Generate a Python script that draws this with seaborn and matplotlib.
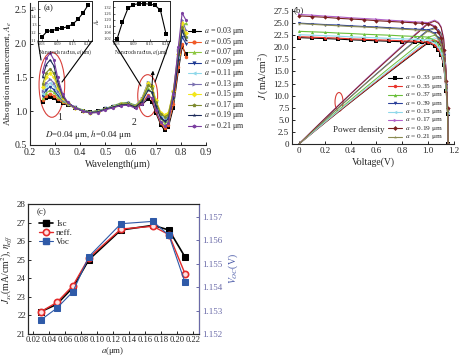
import numpy as np
import pandas as pd
import seaborn as sns
import matplotlib.pyplot as plt
from matplotlib.patches import Ellipse
from matplotlib.lines import Line2D

sns.set_style("ticks")
plt.rcParams["font.family"] = ["Liberation Serif", "DejaVu Serif"]
plt.rcParams["mathtext.fontset"] = "stix"
plt.rcParams["xtick.direction"] = "in"
plt.rcParams["ytick.direction"] = "in"
plt.rcParams["axes.linewidth"] = 0.8

# ---- panel (a): absorption enhancement vs wavelength ----
a_labels = ["0.03", "0.05", "0.07", "0.09", "0.11", "0.13", "0.15", "0.17", "0.19", "0.21"]
a_colors = ["#000000", "#f05a28", "#8cc63f", "#1f3a93", "#8fd8ea",
            "#7a6fb0", "#f2e61c", "#7d8a2e", "#1c2a5a", "#7b3fa0"]
a_markers = ["s", "o", "^", "v", "<", ">", "D", "p", "*", "h"]
wavelength = [0.25, 0.265, 0.28, 0.295, 0.31, 0.33, 0.35, 0.38, 0.41, 0.44, 0.47, 0.50, 0.53,
              0.56, 0.59, 0.62, 0.645, 0.67, 0.685, 0.70, 0.72, 0.735, 0.75, 0.77, 0.79, 0.805, 0.82]
ae_values = [
    [1.13, 1.19, 1.21, 1.19, 1.15, 1.12, 1.09, 1.05, 1.01, 0.99, 1.00, 1.03, 1.06, 1.09, 1.10, 1.06, 1.10, 1.18, 1.14, 0.98, 0.80, 0.72, 0.76, 1.05, 1.60, 1.95, 1.85],
    [1.16, 1.23, 1.26, 1.23, 1.18, 1.13, 1.10, 1.05, 1.01, 0.99, 1.00, 1.03, 1.06, 1.09, 1.10, 1.06, 1.12, 1.24, 1.18, 1.00, 0.82, 0.75, 0.80, 1.10, 1.65, 2.00, 1.80],
    [1.19, 1.27, 1.31, 1.28, 1.21, 1.15, 1.11, 1.06, 1.02, 0.99, 1.01, 1.04, 1.08, 1.12, 1.13, 1.09, 1.17, 1.34, 1.28, 1.08, 0.90, 0.82, 0.85, 1.20, 1.85, 2.25, 2.30],
    [1.22, 1.32, 1.36, 1.32, 1.24, 1.16, 1.11, 1.06, 1.01, 0.99, 1.00, 1.04, 1.07, 1.11, 1.12, 1.08, 1.18, 1.40, 1.34, 1.12, 0.92, 0.86, 0.90, 1.20, 1.75, 2.10, 2.00],
    [1.26, 1.37, 1.42, 1.37, 1.27, 1.17, 1.11, 1.05, 1.01, 0.98, 1.00, 1.03, 1.07, 1.10, 1.11, 1.08, 1.19, 1.43, 1.37, 1.15, 0.95, 0.90, 0.93, 1.25, 1.80, 2.20, 2.10],
    [1.30, 1.42, 1.47, 1.42, 1.30, 1.18, 1.11, 1.05, 1.00, 0.98, 0.99, 1.03, 1.06, 1.10, 1.11, 1.07, 1.19, 1.43, 1.38, 1.16, 0.97, 0.93, 0.95, 1.30, 1.90, 2.35, 2.20],
    [1.36, 1.50, 1.56, 1.50, 1.35, 1.20, 1.12, 1.05, 1.00, 0.98, 0.99, 1.03, 1.06, 1.10, 1.11, 1.07, 1.18, 1.41, 1.37, 1.17, 0.98, 0.95, 0.97, 1.30, 1.85, 2.30, 2.15],
    [1.40, 1.57, 1.63, 1.56, 1.38, 1.21, 1.12, 1.05, 1.00, 0.98, 0.99, 1.03, 1.06, 1.10, 1.11, 1.07, 1.17, 1.38, 1.34, 1.14, 0.96, 0.92, 0.95, 1.28, 1.85, 2.25, 2.10],
    [1.50, 1.69, 1.76, 1.67, 1.44, 1.23, 1.13, 1.05, 1.00, 0.98, 0.99, 1.03, 1.06, 1.09, 1.10, 1.06, 1.14, 1.31, 1.28, 1.08, 0.90, 0.85, 0.88, 1.20, 1.75, 2.20, 2.05],
    [1.58, 1.78, 1.86, 1.76, 1.50, 1.25, 1.13, 1.05, 1.00, 0.97, 0.98, 1.02, 1.05, 1.08, 1.09, 1.04, 1.10, 1.22, 1.20, 1.02, 0.84, 0.78, 0.82, 1.25, 1.95, 2.45, 2.35],
]
inset_radius = [0.03, 0.05, 0.07, 0.09, 0.11, 0.13, 0.15, 0.17, 0.19, 0.21]
inset1_ae = [1.15, 1.22, 1.23, 1.25, 1.26, 1.28, 1.31, 1.37, 1.45, 1.55]
inset2_ae = [1.02, 1.18, 1.31, 1.345, 1.355, 1.355, 1.35, 1.34, 1.29, 1.07]

# ---- panel (b): J-V and power density ----
b_labels = ["0.33", "0.35", "0.37", "0.39", "0.13", "0.17", "0.19", "0.21"]
b_colors = ["#000000", "#e8332a", "#6abf3a", "#2a3f9a", "#8fd8ea", "#b060c8", "#7a1f1f", "#8a8a50"]
b_markers = ["s", "o", "^", "v", "<", ">", "D", "*"]
voltage = [0, 0.1, 0.2, 0.3, 0.4, 0.5, 0.6, 0.7, 0.8, 0.9, 0.95, 1.0, 1.05, 1.08, 1.1, 1.12, 1.14, 1.15, 1.155]
j_values = [
    [22.0, 21.9, 21.8, 21.7, 21.55, 21.45, 21.35, 21.25, 21.15, 21.05, 21.0, 20.9, 20.3, 19.4, 18.4, 16.3, 10.9, 6.3, 0.0],
    [22.2, 22.1, 22.0, 21.9, 21.75, 21.65, 21.55, 21.45, 21.35, 21.25, 21.2, 21.1, 20.5, 19.6, 18.6, 16.4, 11.0, 6.4, 0.0],
    [23.3, 23.2, 23.1, 22.95, 22.85, 22.7, 22.6, 22.5, 22.35, 22.25, 22.2, 22.1, 21.4, 20.5, 19.4, 17.2, 11.5, 6.6, 0.0],
    [25.0, 24.85, 24.7, 24.6, 24.45, 24.3, 24.2, 24.05, 23.9, 23.75, 23.7, 23.6, 22.9, 21.9, 20.8, 18.4, 12.3, 7.1, 0.0],
    [22.6, 22.5, 22.4, 22.3, 22.15, 22.05, 21.95, 21.85, 21.75, 21.65, 21.6, 21.5, 20.9, 20.0, 18.9, 16.8, 11.2, 6.5, 0.0],
    [26.8, 26.65, 26.45, 26.3, 26.1, 25.95, 25.8, 25.6, 25.45, 25.25, 25.2, 25.1, 24.4, 23.3, 22.1, 19.6, 13.1, 7.5, 0.0],
    [26.5, 26.35, 26.2, 26.0, 25.85, 25.7, 25.5, 25.35, 25.2, 25.05, 24.95, 24.9, 24.2, 23.1, 21.9, 19.4, 13.0, 7.4, 0.0],
    [24.9, 24.75, 24.6, 24.45, 24.3, 24.2, 24.05, 23.9, 23.75, 23.6, 23.5, 23.4, 22.7, 21.7, 20.6, 18.3, 12.2, 7.0, 0.0],
]

# ---- panel (c): Isc, efficiency, Voc vs radius ----
c_radius = [0.03, 0.05, 0.07, 0.09, 0.13, 0.17, 0.19, 0.21]
isc = [22.2, 22.6, 23.5, 25.0, 26.6, 26.85, 26.6, 25.15]
neff = [22.2, 22.7, 23.6, 25.1, 26.65, 26.8, 26.35, 24.25]
voc = [1.1526, 1.1531, 1.1538, 1.1553, 1.1567, 1.1568, 1.1562, 1.1542]

W, H = 460, 357


def box(l, t, r, b):
    return [l / W, 1 - b / H, (r - l) / W, (b - t) / H]


def fpt(x, y):
    return x / W, 1 - y / H


def hand_legend(fig, x, y0, dy, colors, markers, labels, fs, hl, ms):
    # compact legend drawn row by row (the reference rows are tighter than fig.legend allows)
    for i, (c, m, lab) in enumerate(zip(colors, markers, labels)):
        y = 1 - (y0 + i * dy) / H
        fig.add_artist(Line2D([x / W, (x + hl) / W], [y, y], transform=fig.transFigure,
                              color=c, lw=0.8))
        fig.add_artist(Line2D([(x + hl / 2) / W], [y], transform=fig.transFigure,
                              color=c, marker=m, ms=ms, mew=0, lw=0))
        fig.text((x + hl + 3) / W, y, lab, fontsize=fs, va="center")


fig = plt.figure(figsize=(4.6, 3.57), dpi=100)

# ================= (a) =================
ax_a = fig.add_axes(box(30, 3, 206, 145))
rows = []
for lab, vals in zip(a_labels, ae_values):
    for w, v in zip(wavelength, vals):
        rows.append((w, v, lab))
df_a = pd.DataFrame(rows, columns=["wl", "ae", "a"])
sns.lineplot(data=df_a, x="wl", y="ae", hue="a", style="a", palette=a_colors,
             markers=a_markers, dashes=False, markersize=2.5, linewidth=0.8,
             markeredgewidth=0, ax=ax_a, legend=False)
ax_a.set_xlim(0.2, 0.9)
ax_a.set_ylim(0.5, 2.6)
ax_a.set_xticks(np.arange(0.2, 0.95, 0.1))
ax_a.set_yticks([0.5, 1.0, 1.5, 2.0, 2.5])
ax_a.set_xticklabels([f"{t:.1f}" for t in np.arange(0.2, 0.95, 0.1)])
ax_a.tick_params(labelsize=7, length=2.5, width=0.7, pad=2)
ax_a.set_xlabel("Wavelength(μm)", fontsize=7, labelpad=2)
ax_a.set_ylabel("Absorption enhancement, $A_e$", fontsize=6.5, labelpad=1)
sns.despine(ax=ax_a)
ax_a.add_patch(Ellipse((0.287, 1.39), 0.102, 0.96, fill=False, edgecolor="#d8403a", lw=0.8))
ax_a.add_patch(Ellipse((0.668, 1.23), 0.079, 0.62, fill=False, edgecolor="#d8403a", lw=0.8))
ax_a.text(0.318, 0.9, "1", fontsize=7, ha="center", va="center")
ax_a.text(0.613, 0.84, "2", fontsize=7, ha="center", va="center")
ax_a.text(0.259, 0.65, "$D$=0.04 μm, $h$=0.04 μm", fontsize=6.5, va="center")
ax_a.annotate("", xy=(0.69, 1.64), xytext=(0.684, 1.32),
              arrowprops=dict(arrowstyle="-|>", color="k", lw=0.7, mutation_scale=5))

hand_legend(fig, 188, 31, 10.5, a_colors, a_markers,
            [f"$a$ = {l} μm" for l in a_labels], fs=5.8, hl=13, ms=3)

for lbox, vals, ylim, yt in [((38, 1, 92, 41), inset1_ae, (1.1, 1.6), [1.1, 1.2, 1.3, 1.4, 1.5]),
                             ((113, 1, 170, 41), inset2_ae, (1.0, 1.38), [1.02, 1.08, 1.14, 1.20, 1.26, 1.32])]:
    ins = fig.add_axes(box(*lbox))
    sns.lineplot(x=inset_radius, y=vals, color="k", marker="s", markersize=2.5,
                 markeredgewidth=0, linewidth=0.8, ax=ins)
    ins.set_xlim(0.015, 0.225)
    ins.set_ylim(*ylim)
    ins.set_xticks([0.03, 0.09, 0.15, 0.21])
    ins.set_xticklabels(["0.03", "0.09", "0.15", "0.21"])
    ins.set_yticks(yt)
    ins.tick_params(labelsize=3.2, length=1.5, width=0.5, pad=1)
    ins.set_xlabel("Nanorods radius, $a$(μm)", fontsize=4, labelpad=0.5)
    for s in ins.spines.values():
        s.set_linewidth(0.7)
    if lbox[0] > 100:
        ins.set_ylabel("$A_e$", fontsize=4, labelpad=1)

fig.text(*fpt(44, 8), "(a)", fontsize=6.5, va="center")
for p0, p1 in [((38, 41), (41, 60)), ((92, 41), (62, 82)),
               ((113, 41), (141, 86)), ((170, 41), (155, 82))]:
    fig.add_artist(Line2D([p0[0] / W, p1[0] / W], [1 - p0[1] / H, 1 - p1[1] / H],
                          transform=fig.transFigure, color="k", lw=0.8))

# ================= (b) =================
ax_b = fig.add_axes(box(292, 8.6, 454, 144))
rows = []
for lab, vals in zip(b_labels, j_values):
    for v, j in zip(voltage, vals):
        rows.append((v, j, v * j, lab))
df_b = pd.DataFrame(rows, columns=["V", "J", "P", "a"])
sns.lineplot(data=df_b, x="V", y="P", hue="a", palette=b_colors, linewidth=0.7,
             ax=ax_b, legend=False)
sns.lineplot(data=df_b, x="V", y="J", hue="a", style="a", palette=b_colors,
             markers=b_markers, dashes=False, markersize=2.2, linewidth=0.8,
             markeredgewidth=0, ax=ax_b, legend=False)
ax_b.set_xlim(-0.054, 1.2)
ax_b.set_ylim(0, 28)
ax_b.set_xticks([0, 0.2, 0.4, 0.6, 0.8, 1.0, 1.2])
ax_b.set_xticklabels(["0", "0.2", "0.4", "0.6", "0.8", "1.0", "1.2"])
yt = np.arange(0, 27.6, 2.5)
ax_b.set_yticks(yt)
ax_b.set_yticklabels(["0"] + [f"{t:.1f}" for t in yt[1:]])
ax_b.tick_params(labelsize=6.5, length=2.5, width=0.7, pad=2)
ax_b.set_xlabel("Voltage(V)", fontsize=7, labelpad=2)
ax_b.set_ylabel("$J$ (mA/cm$^2$)", fontsize=7, labelpad=2)
sns.despine(ax=ax_b)
ax_b.add_patch(Ellipse((0.31, 8.7), 0.062, 3.9, fill=False, edgecolor="#d8403a", lw=0.8))
fig.text(*fpt(333, 130), "Power density", fontsize=6.5, va="center")
fig.text(*fpt(294, 10), "(b)", fontsize=6.5, va="center")

hand_legend(fig, 388, 78, 8.4, b_colors, b_markers,
            [f"$a$ = {l} μm" for l in b_labels], fs=5.3, hl=14, ms=2.5)

# ================= (c) =================
ax_c = fig.add_axes(box(28, 204, 199, 334))
sns.lineplot(x=c_radius, y=isc, color="k", marker="s", markersize=4.5, linewidth=1.2,
             markeredgecolor="k", ax=ax_c)
sns.lineplot(x=c_radius, y=neff, color="#e32b2b", marker="o", markersize=4.5, linewidth=1.0,
             markerfacecolor="#ffe0e0", markeredgecolor="#e32b2b", markeredgewidth=1.2, ax=ax_c)
ax_v = ax_c.twinx()
sns.lineplot(x=c_radius, y=voc, color="#2f5aa8", marker="s", markersize=4.5, linewidth=0.8,
             markeredgecolor="#2f5aa8", ax=ax_v)
ax_c.set_xlim(0.014, 0.2275)
ax_c.set_ylim(21, 28)
ax_v.set_ylim(1.152, 1.15754)
xt = np.arange(0.02, 0.225, 0.02)
ax_c.set_xticks(xt)
ax_c.set_xticklabels([f"{t:.2f}" for t in xt])
ax_c.set_yticks(range(21, 29))
ax_v.set_yticks([1.152, 1.153, 1.154, 1.155, 1.156, 1.157])
ax_v.set_yticklabels(["1.152", "1.153", "1.154", "1.155", "1.156", "1.157"])
ax_c.tick_params(axis="y", labelsize=6.5, length=2.5, width=0.7, pad=1.5)
ax_c.tick_params(axis="x", labelsize=6.2, length=2.5, width=0.7, pad=1.5)
ax_v.tick_params(labelsize=6.5, length=2.5, width=0.7, pad=2, colors="#6a6aa8")
ax_v.spines["right"].set_color("#6a6aa8")
fig.text(*fpt(113, 351), "$a$(μm)", fontsize=6.3, ha="center", va="center")
ax_c.set_ylabel("$J_{sc}$(mA/cm$^2$), $\\eta_{eff}$", fontsize=7, labelpad=2)
ax_v.set_ylabel("$V_{OC}$(V)", fontsize=7, labelpad=3, color="#4a5aa8")
fig.text(*fpt(37, 212), "(c)", fontsize=6.5, va="center")
c_handles = [Line2D([], [], color="k", marker="s", ms=4.5, lw=1.2),
             Line2D([], [], color="#e32b2b", marker="o", ms=4.5, lw=1.0, mfc="#ffe0e0", mew=1.2),
             Line2D([], [], color="#2f5aa8", marker="s", ms=4.5, lw=0.8)]
ax_c.legend(c_handles, ["Isc", "neff.", "Voc"], loc="upper left", bbox_to_anchor=fpt(39, 220),
            bbox_transform=fig.transFigure, frameon=False, fontsize=6.5, handlelength=1.6,
            labelspacing=0.05, handletextpad=0.3, borderaxespad=0, borderpad=0)

fig.savefig("out.png", dpi=100)
